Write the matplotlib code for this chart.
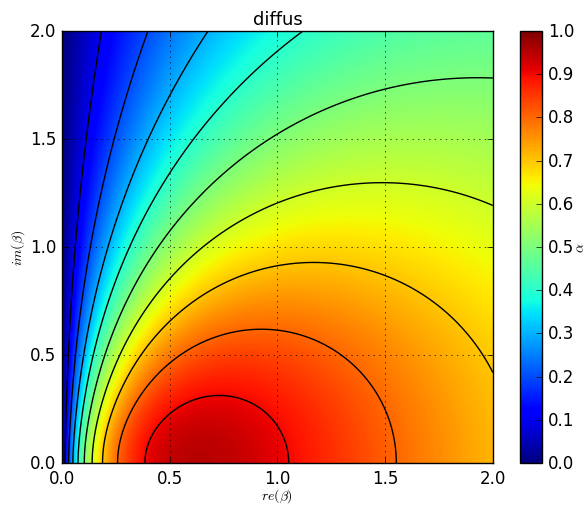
import numpy as np
import matplotlib
matplotlib.use("Agg")
import matplotlib.pyplot as plt

plt.style.use('classic')

# axis ranges / ticks
re_range = [0.0, 2.0]
im_range = [0.0, 2.0]
xticks = [0.0, 0.5, 1.0, 1.5, 2.0]
yticks = [0.0, 0.5, 1.0, 1.5, 2.0]
levels = [0.1, 0.2, 0.3, 0.4, 0.5, 0.6, 0.7, 0.8, 0.9]
cbar_ticks = [0.0, 0.1, 0.2, 0.3, 0.4, 0.5, 0.6, 0.7, 0.8, 0.9, 1.0]

# diffuse-field absorption of a surface with normalized admittance beta
# alpha = int_0^1 2 mu * 4 Re(beta) mu / |mu + beta|^2 dmu
n = 400
g = np.linspace(re_range[0], re_range[1], n)
b = np.linspace(im_range[0], im_range[1], n)
G, B = np.meshgrid(g, b)
mu = np.linspace(0, 1, 201)
alpha = np.zeros_like(G)
for i, m in enumerate(mu):
    w = 0.5 if i in (0, len(mu) - 1) else 1.0
    alpha += w * 8 * G * m**2 / ((m + G)**2 + B**2)
alpha *= mu[1] - mu[0]

fig = plt.figure(figsize=(5.87, 5.06), dpi=100)
fig.patch.set_facecolor('white')
ax = fig.add_axes([0.1056, 0.083, 0.734, 0.854])
cax = fig.add_axes([0.886, 0.083, 0.038, 0.854])

im = ax.imshow(alpha, origin='lower', extent=re_range + im_range, cmap='jet',
               vmin=0, vmax=1, aspect='auto', interpolation='bilinear')
ax.contour(G, B, alpha, levels=levels, colors='k', linewidths=1)
ax.set_xlim(re_range)
ax.set_ylim(im_range)
ax.set_xticks(xticks)
ax.set_yticks(yticks)
ax.grid(True)
ax.set_title('diffus', fontsize=13)
ax.set_xlabel(r'$re(\beta)$', fontsize=10, labelpad=0)
ax.set_ylabel(r'$im(\beta)$', fontsize=10, labelpad=2)
ax.tick_params(labelsize=12)

cb = fig.colorbar(im, cax=cax, ticks=cbar_ticks)
cb.set_label(r'$\alpha$', fontsize=10, labelpad=-1)
cb.ax.tick_params(labelsize=12)

fig.savefig('out.png', dpi=100, facecolor='white')
